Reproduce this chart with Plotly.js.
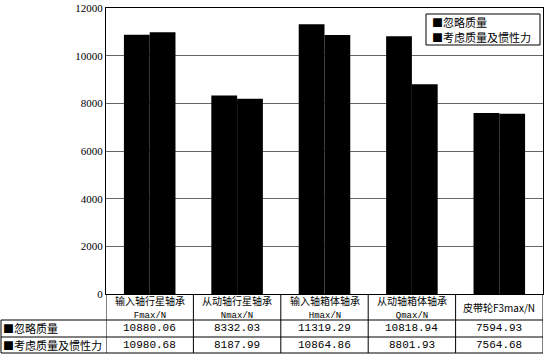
<!DOCTYPE html>
<html><head><meta charset="utf-8">
<script src="https://cdn.plot.ly/plotly-3.0.1.min.js"></script>
<style>body{margin:0;background:#fff}#c{width:550px;height:356px}</style>
</head><body><div id="c"></div>
<script>
const categories = ['输入轴行星轴承', '从动轴行星轴承', '输入轴箱体轴承', '从动轴箱体轴承', '皮带轮F3max/N'];
const subLabels = ['Fmax/N', 'Nmax/N', 'Hmax/N', 'Qmax/N', ''];
const seriesNames = ['忽略质量', '考虑质量及惯性力'];
const ignoreMass = [10880.06, 8332.03, 11319.29, 10818.94, 7594.93];
const withInertia = [10980.68, 8187.99, 10864.86, 8801.93, 7564.68];
const yTicks = [0, 2000, 4000, 6000, 8000, 10000, 12000];

const xIdx = categories.map((c, i) => i);
const traces = [
  {type: 'bar', name: seriesNames[0], x: xIdx, y: ignoreMass, marker: {color: '#000'}},
  {type: 'bar', name: seriesNames[1], x: xIdx, y: withInertia, marker: {color: '#000'}}
];

const cjk = '"Noto Sans CJK SC", sans-serif';
const mono = '"Liberation Mono", monospace';
const plotH = 286, plotW = 437;
const py = px => -px / plotH;       // pixels below plot bottom -> paper y
const pyTop = px => 1 - px / plotH; // pixels below plot top -> paper y
const pxX = px => px / plotW;       // pixels right of plot left -> paper x
const leftEdge = -105 / plotW;

const ann = [];
const shapes = [];
categories.forEach((c, i) => {
  const hdr = subLabels[i] ? c + '<br><span style="font-family:Liberation Mono;font-size:9px">' + subLabels[i] + '</span>' : c;
  ann.push({x: i, y: py(13), xref: 'x', yref: 'paper', text: hdr, showarrow: false,
    font: {family: cjk, size: 10, color: '#000'}, yanchor: 'middle'});
  ann.push({x: i, y: py(34), xref: 'x', yref: 'paper', text: ignoreMass[i].toFixed(2), showarrow: false,
    font: {family: mono, size: 11, color: '#000'}, yanchor: 'middle'});
  ann.push({x: i, y: py(51), xref: 'x', yref: 'paper', text: withInertia[i].toFixed(2), showarrow: false,
    font: {family: mono, size: 11, color: '#000'}, yanchor: 'middle'});
});
seriesNames.forEach((n, k) => {
  ann.push({x: leftEdge, y: py(k === 0 ? 34 : 51), xref: 'paper', yref: 'paper', text: '■' + n,
    showarrow: false, xanchor: 'left', font: {family: cjk, size: 11, color: '#000'}, yanchor: 'middle'});
  // legend entries
  ann.push({x: pxX(324), y: pyTop(k === 0 ? 14 : 29), xref: 'paper', yref: 'paper', text: '■' + n,
    showarrow: false, xanchor: 'left', font: {family: cjk, size: 11, color: '#000'}, yanchor: 'middle'});
});
const lineStyle = {color: '#000', width: 1};
// legend box
shapes.push({type: 'rect', xref: 'paper', yref: 'paper', x0: pxX(320), x1: pxX(434), y0: pyTop(6), y1: pyTop(37),
  line: {color: '#000', width: 1}, fillcolor: '#fff', layer: 'above'});
// horizontal table lines
[26, 43, 59].forEach(p => shapes.push({type: 'line', xref: 'paper', yref: 'paper', x0: leftEdge, x1: 1, y0: py(p), y1: py(p), line: lineStyle}));
// left border
shapes.push({type: 'line', xref: 'paper', yref: 'paper', x0: leftEdge, x1: leftEdge, y0: py(26), y1: py(59), line: lineStyle});
// vertical dividers
for (let i = 0; i <= categories.length; i++) {
  shapes.push({type: 'line', xref: 'x', yref: 'paper', x0: i - 0.5, x1: i - 0.5, y0: 0, y1: py(59), line: lineStyle});
}

const layout = {
  width: 550, height: 356,
  margin: {l: 106, r: 7, t: 8, b: 62},
  paper_bgcolor: '#fff', plot_bgcolor: '#fff',
  barmode: 'group', bargap: 0.41, bargroupgap: 0,
  showlegend: false,
  xaxis: {range: [-0.5, 4.5], showticklabels: false, ticks: '', showgrid: false, zeroline: false,
    showline: true, linecolor: '#000', linewidth: 1, mirror: true, tickvals: xIdx},
  yaxis: {range: [0, 12000], tickvals: yTicks, ticktext: yTicks.map(String), showgrid: true, gridcolor: '#666', gridwidth: 1,
    zeroline: false, showline: true, linecolor: '#000', linewidth: 1, mirror: true, ticks: '',
    tickfont: {family: '"Liberation Serif", serif', size: 11, color: '#000'}},
  annotations: ann,
  shapes: shapes
};
Plotly.newPlot('c', traces, layout, {displayModeBar: false, staticPlot: true});
</script></body></html>
